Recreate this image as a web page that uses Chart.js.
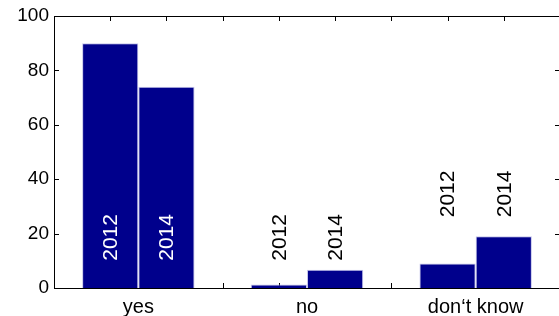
<!DOCTYPE html>
<html>
<head>
<meta charset="utf-8">
<script src="https://cdn.jsdelivr.net/npm/chart.js@4/dist/chart.umd.min.js"></script>
<style>
  html, body { margin: 0; padding: 0; background: #fff; overflow: hidden; width: 559px; height: 316px; }
  #wrap { position: relative; width: 559px; height: 316px; overflow: hidden; }
  #chart { display: block; position: absolute; left: 0; top: 0; }
</style>
</head>
<body>
<div id="wrap"><canvas id="chart" width="561" height="316"></canvas></div>
<script>
// data
const categories = ['yes', 'no', 'don\u2018t know'];
const years = ['2012', '2014'];
const values2012 = [90, 1.3, 9];
const values2014 = [74, 6.7, 19];
const yTicks = [0, 20, 40, 60, 80, 100];
// where the year labels start (in y units)
const labelAt = [10, 10, 26];

const FONT = "'Liberation Sans', Arial, Helvetica, sans-serif";
const NAVY = '#00008c';
const EDGE = '#c4c4ea';

// matlab-ish frame with inward ticks
const framePlugin = {
  id: 'frame',
  beforeDatasetsDraw(chart) {
    const ctx = chart.ctx;
    const a = chart.chartArea;
    const y = chart.scales.y;
    const step = (a.right - a.left) / 9;
    ctx.save();
    ctx.strokeStyle = '#000';
    ctx.lineWidth = 1;
    ctx.beginPath();
    for (let k = 1; k < 9; k++) {
      const x = Math.round(a.left + k * step) + 0.5;
      ctx.moveTo(x, a.top);
      ctx.lineTo(x, a.top + 5);
      ctx.moveTo(x, a.bottom);
      ctx.lineTo(x, a.bottom - 5);
    }
    yTicks.forEach(v => {
      const py = Math.round(y.getPixelForValue(v)) + 0.5;
      ctx.moveTo(a.left, py);
      ctx.lineTo(a.left + 5, py);
      ctx.moveTo(a.right, py);
      ctx.lineTo(a.right - 5, py);
    });
    ctx.stroke();
    ctx.restore();
  },
  afterDatasetsDraw(chart) {
    const ctx = chart.ctx;
    const a = chart.chartArea;
    ctx.save();
    ctx.strokeStyle = '#000';
    ctx.lineWidth = 1;
    ctx.strokeRect(Math.round(a.left) + 0.5, Math.round(a.top) + 0.5,
      Math.round(a.right - a.left), Math.round(a.bottom - a.top));
    ctx.restore();

    // year labels, rotated
    const yScale = chart.scales.y;
    ctx.save();
    ctx.font = '21px ' + FONT;
    ctx.textAlign = 'left';
    ctx.textBaseline = 'middle';
    chart.data.datasets.forEach((ds, d) => {
      const meta = chart.getDatasetMeta(d);
      meta.data.forEach((bar, j) => {
        const py = yScale.getPixelForValue(labelAt[j]);
        const w = ctx.measureText(ds.label).width;
        ctx.fillStyle = bar.y < py - w ? '#fff' : '#000';
        ctx.save();
        ctx.translate(bar.x + 1, py);
        ctx.rotate(-Math.PI / 2);
        ctx.fillText(ds.label, 0, 0);
        ctx.restore();
      });
    });
    ctx.restore();
  }
};

function barSet(label, data) {
  return {
    label: label,
    data: data,
    backgroundColor: NAVY,
    borderColor: EDGE,
    borderWidth: 1,
    borderSkipped: 'bottom',
    categoryPercentage: 2 / 3,
    barPercentage: 1
  };
}

new Chart(document.getElementById('chart'), {
  type: 'bar',
  data: {
    labels: categories,
    datasets: [barSet(years[0], values2012), barSet(years[1], values2014)]
  },
  options: {
    responsive: false,
    animation: false,
    devicePixelRatio: 1,
    layout: { padding: { top: 16, right: 1, left: 0, bottom: 0 } },
    plugins: {
      legend: { display: false },
      tooltip: { enabled: false },
      colors: { enabled: false }
    },
    scales: {
      x: {
        grid: { display: false, drawTicks: false },
        border: { display: false },
        ticks: { color: '#000', font: { family: FONT, size: 20 }, padding: 7 },
        afterFit(s) {
          s.height = 28;
          s.paddingLeft = 0;
          s.paddingRight = 0;
        }
      },
      y: {
        min: 0,
        max: 100,
        grid: { display: false, drawTicks: false },
        border: { display: false },
        ticks: {
          stepSize: 20,
          color: '#000',
          font: { family: FONT, size: 19 },
          padding: 5
        },
        afterFit(s) {
          s.width = 54;
          s.paddingTop = 0;
          s.paddingBottom = 0;
        }
      }
    }
  },
  plugins: [framePlugin]
});
</script>
</body>
</html>
